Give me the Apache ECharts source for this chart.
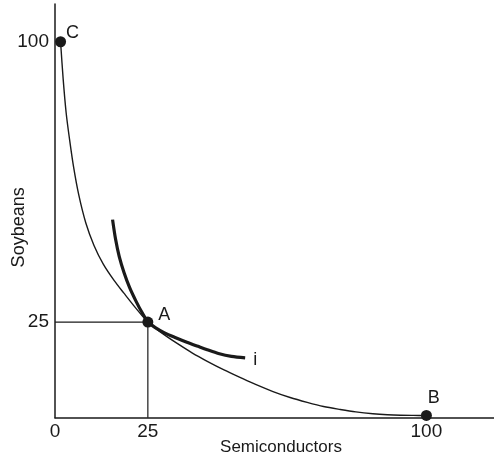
<!DOCTYPE html>
<html>
<head>
<meta charset="utf-8">
<script src="https://cdn.jsdelivr.net/npm/echarts@6/dist/echarts.min.js"></script>
<style>
html,body{margin:0;padding:0;background:#fff;}
#chart{width:494px;height:459px;}
</style>
</head>
<body>
<div id="chart"></div>
<script>
// Production possibility frontier (Semiconductors, Soybeans)
const ppfPoints = [
  [1.5,100],[2.2,90],[3.0,81],[3.9,74],[5.0,66.5],[6.4,59],[8.3,51.5],[10.5,45.5],
  [13,40.5],[16,36],[18.5,32.8],[21.7,28.8],[25,25],[29,21.9],[33,19.2],[37,16.7],
  [41,14.5],[45.5,12.2],[49.8,10.2],[54,8.3],[58.7,6.4],[63.3,4.8],[67.9,3.5],
  [72.3,2.4],[76.8,1.6],[81,0.95],[85.6,0.45],[89.5,0.18],[93,0.05],[96.5,0.01],[100,0]
];
// Indifference curve i
const indiffPoints = [
  [15.5,52.4],[16.3,47.2],[17.3,42.5],[18.6,38.2],[20.1,34.2],[21.8,30.6],[23.4,27.6],
  [25,25.1],[27,23.5],[29.5,22.1],[32.5,20.8],[35.5,19.6],[38.5,18.5],[41,17.6],
  [44,16.6],[47.5,15.8],[51.2,15.4]
];
// Labelled points
const pointNames = ['C','A','B'];
const pointValues = [[1.5,100],[25,25],[100,0]];
// Guide lines from A to the axes
const guideH = [[0,25],[25,25]];
const guideV = [[25,-0.6],[25,25]];
// Tick labels
const xTicks = [0,25,100];
const yTicks = [25,100];

const ink = '#1a1a1a';
const font = "'Liberation Sans', Arial, Helvetica, sans-serif";
const labelOffsets = {C:[12,-9], A:[16.5,-7], B:[7.3,-17.3]};

const chart = echarts.init(document.getElementById('chart'));
chart.setOption({
  backgroundColor:'#fff',
  animation:false,
  grid:{left:55, right:0, top:4, bottom:41.3, containLabel:false, outerBoundsMode:'none'},
  xAxis:{
    type:'value', min:0, max:118.2,
    name:'Semiconductors', nameLocation:'middle', nameGap:21, nameMoveOverlap:false,
    nameTextStyle:{fontFamily:font, fontSize:17, color:ink, padding:[0,0,0,13]},
    axisLine:{show:true, onZero:false, lineStyle:{color:ink, width:1.5}},
    axisTick:{show:false},
    splitLine:{show:false},
    axisLabel:{customValues:xTicks, fontFamily:font, fontSize:19, color:ink, margin:5}
  },
  yAxis:{
    type:'value', min:-0.6, max:110.1,
    name:'Soybeans', nameLocation:'middle', nameGap:27, nameRotate:90, nameMoveOverlap:false,
    nameTextStyle:{fontFamily:font, fontSize:18, color:ink, padding:[0,33,0,0]},
    axisLine:{show:true, onZero:false, lineStyle:{color:ink, width:1.5}},
    axisTick:{show:false},
    splitLine:{show:false},
    axisLabel:{customValues:yTicks, fontFamily:font, fontSize:19, color:ink, margin:6}
  },
  series:[
    {type:'line', data:guideH, showSymbol:false, lineStyle:{color:ink, width:1.2}, silent:true},
    {type:'line', data:guideV, showSymbol:false, lineStyle:{color:ink, width:1.2}, silent:true},
    {type:'line', data:ppfPoints, smooth:0.3, showSymbol:false, lineStyle:{color:ink, width:1.4}, silent:true},
    {type:'line', data:indiffPoints, smooth:0.3, showSymbol:false, lineStyle:{color:ink, width:3.2}, silent:true,
     endLabel:{show:true, formatter:'i', fontFamily:font, fontSize:18, color:ink, distance:8, offset:[0,2]}},
    {type:'scatter', symbolSize:11, itemStyle:{color:ink, opacity:1}, z:5,
     data:pointNames.map((n,i)=>({name:n, value:pointValues[i],
       label:{show:true, position:'inside', formatter:n, offset:labelOffsets[n],
              fontFamily:font, fontSize:18, color:ink, opacity:1}}))}
  ]
});
</script>
</body>
</html>
